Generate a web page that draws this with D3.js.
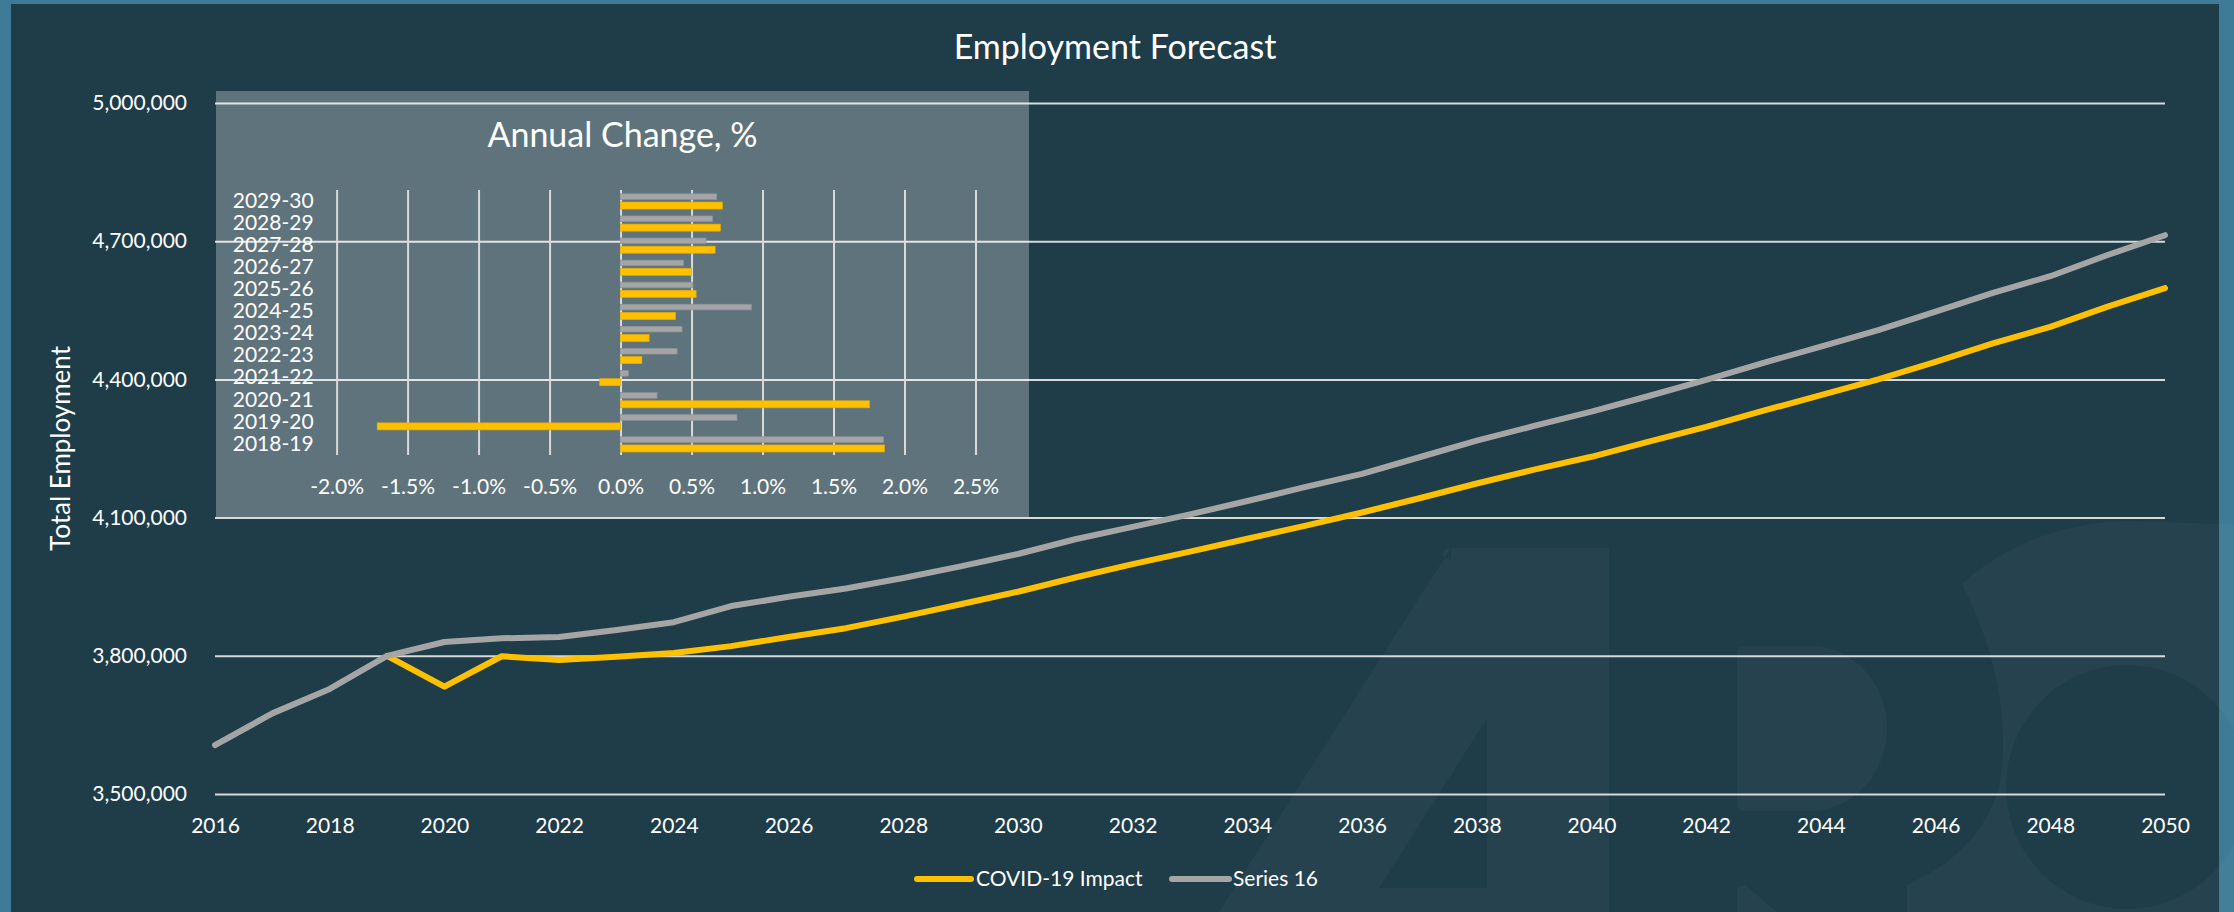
<!DOCTYPE html>
<html>
<head>
<meta charset="utf-8">
<title>Employment Forecast</title>
<script src="https://cdn.jsdelivr.net/npm/d3@7"></script>
<style>
  html, body { margin: 0; padding: 0; background: #3e7b96; }
  svg { display: block; }
  text { font-family: Lato, "Open Sans", "Noto Sans", sans-serif; fill: #ffffff; }
</style>
</head>
<body>
<svg id="chart" width="2234" height="912"></svg>
<script>
// ---- Total employment by year ----
const years = [2016, 2017, 2018, 2019, 2020, 2021, 2022, 2023, 2024, 2025, 2026, 2027,
               2028, 2029, 2030, 2031, 2032, 2033, 2034, 2035, 2036, 2037, 2038, 2039,
               2040, 2041, 2042, 2043, 2044, 2045, 2046, 2047, 2048, 2049, 2050];

const series16 = [3606000, 3675000, 3728000, 3800000, 3830000, 3838000, 3841000, 3856000,
                  3873000, 3908000, 3928000, 3946000, 3969000, 3994000, 4021000, 4053000,
                  4080000, 4107000, 4136000, 4166000, 4195000, 4231000, 4267000, 4299000,
                  4330000, 4364000, 4399000, 4436000, 4471000, 4507000, 4547000, 4588000,
                  4624000, 4670000, 4713000];

// COVID-19 scenario starts in 2019
const covidImpact = [null, null, null, 3800000, 3733000, 3799000, 3791000, 3798000,
                     3806000, 3821000, 3841000, 3860000, 3885000, 3912000, 3939000, 3970000,
                     3999000, 4026000, 4054000, 4082000, 4111000, 4142000, 4174000, 4204000,
                     4232000, 4265000, 4297000, 4332000, 4366000, 4400000, 4438000, 4478000,
                     4514000, 4558000, 4598000];

const yTicks = [3500000, 3800000, 4100000, 4400000, 4700000, 5000000];
const xTicks = [2016, 2018, 2020, 2022, 2024, 2026, 2028, 2030, 2032, 2034,
                2036, 2038, 2040, 2042, 2044, 2046, 2048, 2050];

// ---- Annual change, % ----
const periods = ["2018-19", "2019-20", "2020-21", "2021-22", "2022-23", "2023-24",
                 "2024-25", "2025-26", "2026-27", "2027-28", "2028-29", "2029-30"];
const changeSeries16 = [1.853, 0.820, 0.257, 0.054, 0.398, 0.433, 0.921, 0.510, 0.443, 0.602, 0.648, 0.677];
const changeCovid    = [1.859, -1.714, 1.753, -0.147, 0.150, 0.201, 0.387, 0.532, 0.501, 0.666, 0.703, 0.717];
const changeTicks = [-2.0, -1.5, -1.0, -0.5, 0.0, 0.5, 1.0, 1.5, 2.0, 2.5];

const seriesNames = ["COVID-19 Impact", "Series 16"];
const colors = { "COVID-19 Impact": "#ffc000", "Series 16": "#a5a5a5" };

const W = 2234, H = 912;
const svg = d3.select("#chart");
const FONT = "Lato, 'Open Sans', sans-serif";
// plain hyphen-minus for negative numbers
const locale = d3.formatLocale({ decimal: ".", thousands: ",", grouping: [3], currency: ["$", ""], minus: "-" });
const pctFormat = d => locale.format(".1f")(d) + "%";

// frame and chart area
svg.append("rect").attr("x", 0).attr("y", 0).attr("width", W).attr("height", H).attr("fill", "#3e7b96");
svg.append("rect").attr("x", 11).attr("y", 4).attr("width", 2208).attr("height", H - 4).attr("fill", "#1f3c49");

// faint logo behind the plot
const logo = svg.append("g").attr("fill", "#ffffff").attr("fill-opacity", 0.035).attr("fill-rule", "evenodd");
logo.append("path").attr("d",
  "M1451,548 L1609,548 L1609,912 L1219,912 Z M1487,718 L1487,888 L1379,888 Z" +
  "M1443,556 Q1443,548 1451,548 L1451,560 Z");
logo.append("path").attr("d",
  "M1745,646 L1810,646 A77,82.5 0 0 1 1810,811 L1745,811 Q1737,811 1737,803 L1737,654 Q1737,646 1745,646 Z");
logo.append("path").attr("d", "M1737,888 L1745,885 L1777,912 L1737,912 Z");
logo.append("path").attr("d",
  "M1962,584 C2000,548 2060,522 2130,521 L2240,525 L2240,912 L1907,912 L1907,885 " +
  "C1950,866 1995,830 2002,770 C2008,700 1990,640 1962,584 Z " +
  "M2006,787 A121,122 0 1 0 2248,787 A121,122 0 1 0 2006,787 Z");

// ---- main chart ----
const plot = { left: 215, right: 2165, top: 103, bottom: 794 };
const x = d3.scaleLinear().domain([2016, 2050]).range([plot.left, plot.right]);
const y = d3.scaleLinear().domain([3500000, 5000000]).range([plot.bottom, plot.top]);

const yAxis = svg.append("g")
  .attr("transform", `translate(${plot.left},0)`)
  .call(d3.axisLeft(y).tickValues(yTicks).tickSize(-(plot.right - plot.left)).tickPadding(28)
        .tickFormat(locale.format(",")));
yAxis.select(".domain").remove();
yAxis.selectAll(".tick line").attr("stroke", "#d9d9d9").attr("stroke-width", 2);
yAxis.selectAll(".tick text").attr("font-size", 21).attr("fill", "#ffffff").style("font-family", FONT);

const xAxis = svg.append("g")
  .attr("transform", `translate(0,${plot.bottom})`)
  .call(d3.axisBottom(x).tickValues(xTicks).tickSize(0).tickPadding(24).tickFormat(d3.format("d")));
xAxis.select(".domain").remove();
xAxis.selectAll(".tick text").attr("font-size", 21).attr("fill", "#ffffff").style("font-family", FONT);

// ---- inset: annual change ----
const inset = { left: 216, top: 91, width: 813, height: 426 };
svg.append("rect")
  .attr("x", inset.left).attr("y", inset.top).attr("width", inset.width).attr("height", inset.height)
  .attr("fill", "#ffffff").attr("fill-opacity", 0.285);

const xi = d3.scaleLinear().domain([-2.0, 2.5]).range([336.6, 975.5]);
const yi = d3.scaleBand().domain(periods.slice().reverse()).range([190, 455]).padding(0);
const sub = d3.scaleBand().domain(["Series 16", "COVID-19 Impact"]).range([2.2, 20]).padding(0);
const barHeight = { "Series 16": 5.6, "COVID-19 Impact": 7 };

const xiAxis = svg.append("g")
  .attr("transform", "translate(0,455)")
  .call(d3.axisBottom(xi).tickValues(changeTicks).tickSize(265).tickPadding(23.6).tickFormat(pctFormat));
xiAxis.select(".domain").remove();
xiAxis.selectAll(".tick line").attr("y1", 0).attr("y2", -265).attr("stroke", "#d9d9d9").attr("stroke-width", 2);
xiAxis.selectAll(".tick text").attr("y", 23.6).attr("font-size", 21).attr("fill", "#ffffff").style("font-family", FONT);

const yiAxis = svg.append("g")
  .attr("transform", `translate(${xi(-2.0)},0)`)
  .call(d3.axisLeft(yi).tickSize(0).tickPadding(23));
yiAxis.select(".domain").remove();
yiAxis.selectAll(".tick text").attr("font-size", 21).attr("fill", "#ffffff").style("font-family", FONT);

const barRows = periods.map((p, i) => ({ period: p, "Series 16": changeSeries16[i], "COVID-19 Impact": changeCovid[i] }));
const barGroups = svg.append("g").selectAll("g").data(barRows).join("g")
  .attr("transform", d => `translate(0,${yi(d.period)})`);
["Series 16", "COVID-19 Impact"].forEach(name => {
  barGroups.append("rect")
    .attr("x", d => xi(Math.min(0, d[name])))
    .attr("width", d => Math.abs(xi(d[name]) - xi(0)))
    .attr("y", sub(name) + (sub.bandwidth() - barHeight[name]) / 2)
    .attr("height", barHeight[name])
    .attr("fill", colors[name])
    .attr("stroke", name === "Series 16" ? "#8d9398" : "#e6ad00")
    .attr("stroke-width", 0.7);
});

svg.append("text")
  .attr("x", inset.left + inset.width / 2).attr("y", 146.5)
  .attr("text-anchor", "middle").attr("font-size", 34)
  .text("Annual Change, %");

// ---- lines ----
const line = d3.line()
  .defined(d => d.v != null)
  .x(d => x(d.year)).y(d => y(d.v));
const seriesData = {
  "COVID-19 Impact": years.map((yr, i) => ({ year: yr, v: covidImpact[i] })),
  "Series 16": years.map((yr, i) => ({ year: yr, v: series16[i] }))
};
seriesNames.forEach(name => {
  svg.append("path")
    .datum(seriesData[name])
    .attr("d", line)
    .attr("fill", "none")
    .attr("stroke", colors[name])
    .attr("stroke-width", 6)
    .attr("stroke-linejoin", "round")
    .attr("stroke-linecap", "round");
});

// ---- titles ----
svg.append("text")
  .attr("x", 1115).attr("y", 59).attr("text-anchor", "middle").attr("font-size", 34)
  .text("Employment Forecast");

svg.append("text")
  .attr("transform", `translate(70,${(plot.top + plot.bottom) / 2}) rotate(-90)`)
  .attr("text-anchor", "middle").attr("font-size", 26)
  .text("Total Employment");

// ---- legend ----
const legendItems = [
  { name: "COVID-19 Impact", x0: 917, x1: 971, tx: 976 },
  { name: "Series 16", x0: 1172, x1: 1229, tx: 1233 }
];
const legend = svg.append("g");
legendItems.forEach(it => {
  legend.append("line")
    .attr("x1", it.x0).attr("x2", it.x1).attr("y1", 879).attr("y2", 879)
    .attr("stroke", colors[it.name]).attr("stroke-width", 6).attr("stroke-linecap", "round");
  legend.append("text")
    .attr("x", it.tx).attr("y", 879).attr("dy", "0.35em").attr("font-size", 21)
    .text(it.name);
});
</script>
</body>
</html>
